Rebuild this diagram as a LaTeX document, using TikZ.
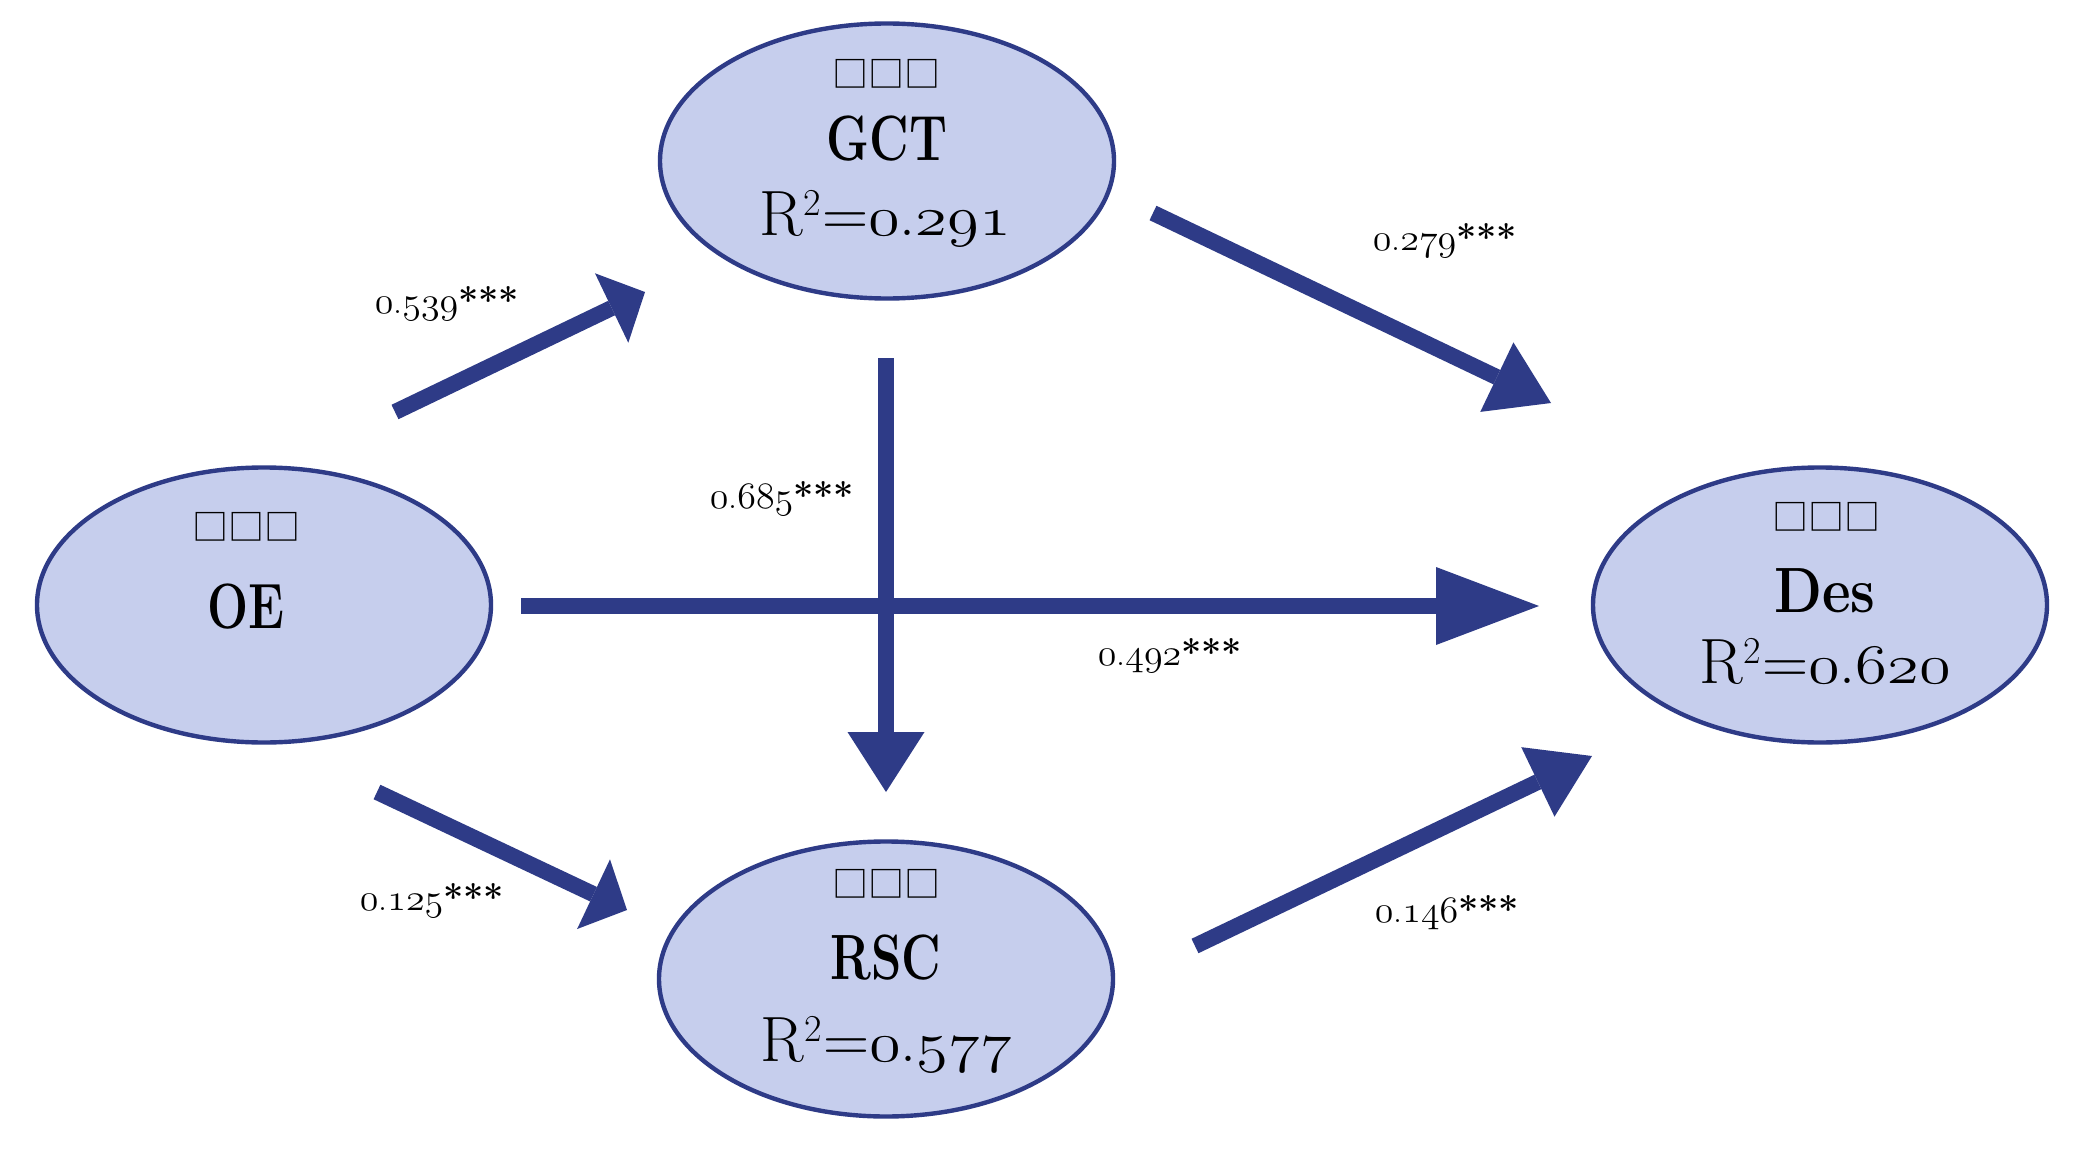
\documentclass[tikz,border=0pt]{standalone}
\usepackage{fontspec}
\usepackage{graphicx}
\newfontfamily\cjk{Noto Sans CJK SC}
\usetikzlibrary{shapes.geometric,arrows.meta}
\definecolor{nodefill}{RGB}{198,206,237}
\definecolor{navy}{RGB}{46,59,135}
\newcommand\osf[1]{{\usefont{OML}{lmm}{m}{it}\scalebox{1.1}[1.08]{#1}}}
\newcommand\osfL[1]{{\usefont{OML}{lmm}{m}{it}\scalebox{1.3}[1.12]{#1}}}
\newcommand\rsqtext[1]{R\kern0.5pt\raisebox{10pt}{\fontsize{19}{19}\selectfont 2}\kern0.5pt=\osfL{0}.\osfL{#1}}
\newcommand\stars{\textbf{***}}
\tikzset{
  var/.style={ellipse, draw=navy, line width=2.2pt, fill=nodefill,
    minimum width=227pt, minimum height=137.5pt, inner sep=0pt},
  boxes/.style={font=\cjk\fontsize{18}{18}\selectfont, inner sep=0pt, anchor=center},
  vname/.style={font=\bfseries\fontsize{32}{32}\selectfont, inner sep=0pt, anchor=base},
  rsq/.style={font=\fontsize{32}{32}\selectfont, inner sep=0pt, anchor=base},
  coef/.style={font=\fontsize{18}{18}\selectfont, inner sep=0pt, anchor=base},
  conn/.style={draw=navy, line width=8pt},
  shorthead/.style={-{Triangle[length=18.5pt,width=38.5pt,line width=0pt]}},
  midhead/.style={-{Triangle[length=30pt,width=38.5pt,line width=0pt]}},
  longhead/.style={-{Triangle[length=51.5pt,width=39pt,line width=0pt]}}
}
\begin{document}
\begin{tikzpicture}[x=0.5pt,y=-0.5pt]
\fill[white] (0,0) rectangle (2074,1151);
\useasboundingbox (0,0) rectangle (2074,1151);

% ellipses
\node[var] (GCT) at (887,161) {};
\node[var] (OE) at (264,605) {};
\node[var] (Des) at (1820,605) {};
\node[var] (RSC) at (886,979) {};

% texts inside ellipses
\node[boxes] (GCTb) at (886,74) {□□□};
\node[vname] (GCTn) at (887,160) {\scalebox{0.76}[1]{GCT}};
\node[rsq] (GCTr) at (885,235) {\rsqtext{291}};

\node[boxes] (OEb) at (246,527) {□□□};
\node[vname] (OEn) at (246,628) {\scalebox{0.76}[1]{OE}};

\node[boxes] (Desb) at (1826,517) {□□□};
\node[vname] (Desn) at (1825,612) {\scalebox{0.87}[1]{Des}};
\node[rsq] (Desr) at (1825,683) {\rsqtext{620}};

\node[boxes] (RSCb) at (886,884) {□□□};
\node[vname] (RSCn) at (886,979) {\scalebox{0.76}[1]{RSC}};
\node[rsq] (RSCr) at (886,1061) {\rsqtext{577}};

% arrow end points
\coordinate (a1s) at (395,412);  \coordinate (a1e) at (645,292);
\coordinate (a2s) at (1153,213); \coordinate (a2e) at (1551,403);
\coordinate (a3s) at (1195,946); \coordinate (a3e) at (1592,756);
\coordinate (a4s) at (377,792);  \coordinate (a4e) at (627,910);
\coordinate (a5s) at (886,358);  \coordinate (a5e) at (886,792);
\coordinate (a6s) at (521,606);  \coordinate (a6e) at (1539,606);

\draw[conn,shorthead] (a1s) -- (a1e);
\draw[conn,midhead] (a2s) -- (a2e);
\draw[conn,midhead] (a3s) -- (a3e);
\draw[conn,shorthead] (a4s) -- (a4e);
\draw[conn,midhead] (a5s) -- (a5e);
\draw[conn,longhead] (a6s) -- (a6e);

% coefficients
\node[coef] (c1) at (447,313) {\osf{0}.\osf{539}\stars};
\node[coef] (c2) at (1445,250) {\osf{0}.\osf{279}\stars};
\node[coef] (c3) at (1447,922) {\osf{0}.\osf{146}\stars};
\node[coef] (c4) at (432,910) {\osf{0}.\osf{125}\stars};
\node[coef] (c5) at (782,508) {\osf{0}.\osf{685}\stars};
\node[coef] (c6) at (1170,665) {\osf{0}.\osf{492}\stars};
\end{tikzpicture}
\end{document}
